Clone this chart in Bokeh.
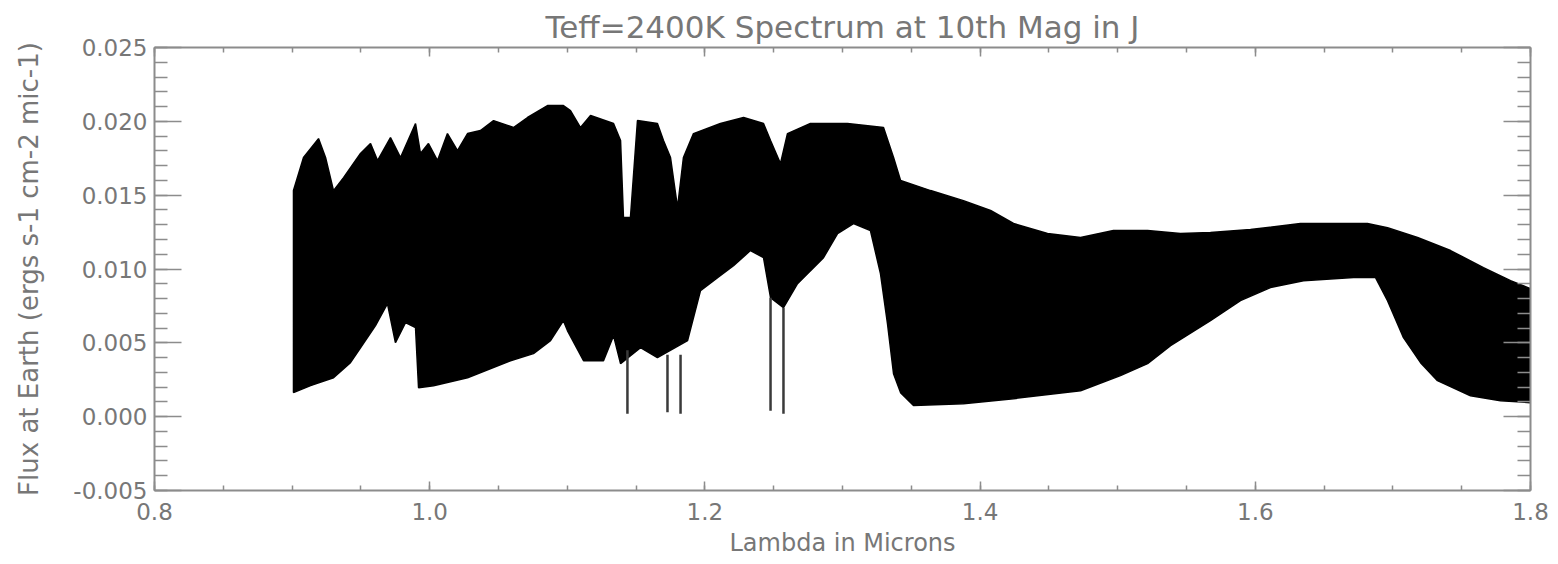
from bokeh.plotting import figure
from bokeh.models import LinearAxis, Range1d, SingleIntervalTicker, NumeralTickFormatter, Title
from bokeh.embed import file_html
from bokeh.resources import INLINE

# ---- data (envelopes of the dense spectrum) ----
upper_wl = [0.9010, 0.9083, 0.9192, 0.9243, 0.9301, 0.9374, 0.9497, 0.9570, 0.9621, 0.9715,
            0.9788, 0.9897, 0.9933, 0.9991, 1.0057, 1.0129, 1.0202, 1.0275, 1.0369, 1.0464,
            1.0609, 1.0711, 1.0856, 1.0972, 1.1023, 1.1096, 1.1169, 1.1336, 1.1387, 1.1408,
            1.1459, 1.1510, 1.1655, 1.1699, 1.1750, 1.1801, 1.1844, 1.1917, 1.2113, 1.2281,
            1.2426, 1.2477, 1.2549, 1.2600, 1.2767, 1.3036, 1.3298, 1.3371, 1.3422, 1.3640,
            1.3879, 1.4076, 1.4243, 1.4490, 1.4730, 1.4969, 1.5217, 1.5456, 1.5674, 1.5965,
            1.6328, 1.6815, 1.6961, 1.7179, 1.7419, 1.7658, 1.7855, 1.8000]
upper_flux = [0.01531, 0.01755, 0.01883, 0.01755, 0.01531, 0.01619, 0.01782, 0.01850, 0.01734, 0.01890,
              0.01755, 0.01985, 0.01782, 0.01850, 0.01734, 0.01917, 0.01802, 0.01917, 0.01938, 0.02005,
              0.01958, 0.02026, 0.02107, 0.02107, 0.02073, 0.01958, 0.02039, 0.01985, 0.01870, 0.01348,
              0.01348, 0.02005, 0.01985, 0.01870, 0.01755, 0.01416, 0.01755, 0.01917, 0.01985, 0.02026,
              0.01985, 0.01870, 0.01714, 0.01917, 0.01985, 0.01985, 0.01958, 0.01755, 0.01599, 0.01531,
              0.01463, 0.01396, 0.01308, 0.01240, 0.01213, 0.01260, 0.01260, 0.01240, 0.01247, 0.01267,
              0.01308, 0.01308, 0.01280, 0.01213, 0.01125, 0.01009, 0.00921, 0.00867]

lower_wl = [0.9010, 0.9134, 0.9301, 0.9424, 0.9497, 0.9606, 0.9693, 0.9751, 0.9824, 0.9897,
            0.9919, 1.0028, 1.0275, 1.0587, 1.0754, 1.0878, 1.0972, 1.1001, 1.1118, 1.1263,
            1.1336, 1.1387, 1.1532, 1.1655, 1.1874, 1.1968, 1.2092, 1.2208, 1.2331, 1.2426,
            1.2477, 1.2571, 1.2673, 1.2862, 1.2964, 1.3080, 1.3203, 1.3276, 1.3327, 1.3371,
            1.3422, 1.3516, 1.3879, 1.4243, 1.4730, 1.5020, 1.5217, 1.5384, 1.5674, 1.5892,
            1.6110, 1.6350, 1.6714, 1.6874, 1.6961, 1.7077, 1.7201, 1.7324, 1.7564, 1.7782,
            1.8000]
lower_flux = [0.00163, 0.00210, 0.00264, 0.00366, 0.00467, 0.00617, 0.00766, 0.00501, 0.00637, 0.00603,
              0.00196, 0.00210, 0.00264, 0.00379, 0.00427, 0.00515, 0.00650, 0.00583, 0.00379, 0.00379,
              0.00549, 0.00359, 0.00467, 0.00400, 0.00515, 0.00854, 0.00942, 0.01023, 0.01125, 0.01077,
              0.00806, 0.00738, 0.00901, 0.01077, 0.01240, 0.01308, 0.01260, 0.00969, 0.00630, 0.00291,
              0.00163, 0.00075, 0.00088, 0.00122, 0.00176, 0.00278, 0.00359, 0.00481, 0.00650, 0.00786,
              0.00874, 0.00921, 0.00942, 0.00942, 0.00786, 0.00535, 0.00366, 0.00244, 0.00142, 0.00108,
              0.00095]

# deep absorption lines reaching toward zero
line_wl = [1.1437, 1.1728, 1.1823, 1.2477, 1.2571]
line_top = [0.00450, 0.00420, 0.00420, 0.00806, 0.00738]
line_bottom = [0.00020, 0.00030, 0.00020, 0.00040, 0.00020]

x_ticks = [0.8, 1.0, 1.2, 1.4, 1.6, 1.8]
y_ticks = [-0.005, 0.000, 0.005, 0.010, 0.015, 0.020, 0.025]

TXT = "#777777"
AX = "#8c8c8c"
FONT = "DejaVu Sans"

p = figure(width=1558, height=564, output_backend="svg", toolbar_location=None,
           x_range=Range1d(0.8, 1.8), y_range=Range1d(-0.005, 0.025),
           min_border_left=154, min_border_right=28, min_border_top=47, min_border_bottom=74,
           x_axis_location=None, y_axis_location=None)
p.grid.visible = False
p.outline_line_color = None
p.background_fill_color = "white"
p.border_fill_color = "white"

p.title = Title(text="Teff=2400K Spectrum at 10th Mag in J", align="center",
                text_font=FONT, text_font_size="31px", text_font_style="normal",
                text_color=TXT, standoff=6)

# spectrum: filled region between envelopes
xs = upper_wl + lower_wl[::-1]
ys = upper_flux + lower_flux[::-1]
p.patch(xs, ys, fill_color="black", line_color="black", line_width=1.5)
p.segment(x0=line_wl, y0=line_top, x1=line_wl, y1=line_bottom, line_color="#3a3a3a", line_width=2.5)

def style(ax, labels, major_in, minor_in):
    ax.axis_line_color = AX
    ax.axis_line_width = 2
    ax.major_tick_line_color = AX
    ax.minor_tick_line_color = AX
    ax.major_tick_line_width = 1.5
    ax.minor_tick_line_width = 1.5
    ax.major_tick_in = major_in
    ax.major_tick_out = 0
    ax.minor_tick_in = minor_in
    ax.minor_tick_out = 0
    ax.major_label_text_font = FONT
    ax.major_label_text_color = TXT
    ax.axis_label_text_font = FONT
    ax.axis_label_text_color = TXT
    ax.axis_label_text_font_style = "normal"
    if not labels:
        ax.major_label_text_color = None
        ax.major_label_text_alpha = 0
        ax.major_label_text_font_size = "1px"
        ax.major_label_standoff = 0

xt = SingleIntervalTicker(interval=0.2, num_minor_ticks=4)
yt = SingleIntervalTicker(interval=0.005, num_minor_ticks=5)

xb = LinearAxis(ticker=xt, formatter=NumeralTickFormatter(format="0.0"),
                axis_label="Lambda in Microns")
style(xb, True, 9, 5)
xb.major_label_text_font_size = "23px"
xb.major_label_standoff = 12
xb.axis_label_text_font_size = "24px"
xb.axis_label_standoff = 6
p.add_layout(xb, "below")

xa = LinearAxis(ticker=SingleIntervalTicker(interval=0.2, num_minor_ticks=4))
style(xa, False, 9, 5)
p.add_layout(xa, "above")

yl = LinearAxis(ticker=yt, formatter=NumeralTickFormatter(format="0.000"),
                axis_label="Flux at Earth (ergs s-1 cm-2 mic-1)")
style(yl, True, 27, 13)
yl.major_label_text_font_size = "23px"
yl.major_label_standoff = 7
yl.axis_label_text_font_size = "26px"
yl.axis_label_standoff = 26
p.add_layout(yl, "left")

yr = LinearAxis(ticker=SingleIntervalTicker(interval=0.005, num_minor_ticks=5))
style(yr, False, 27, 13)
p.add_layout(yr, "right")

open("out.html", "w").write(file_html(p, INLINE))
